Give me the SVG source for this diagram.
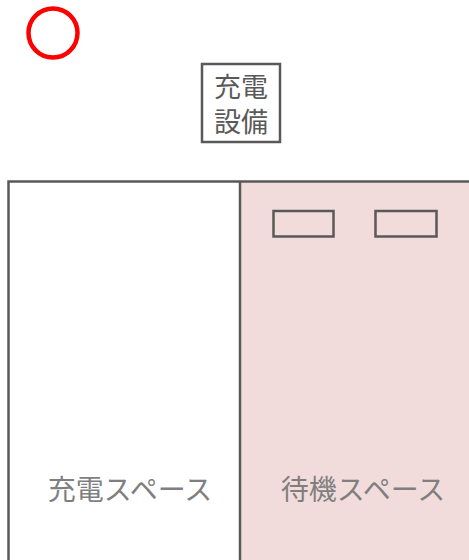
<svg xmlns="http://www.w3.org/2000/svg" width="469" height="560" viewBox="0 0 469 560">
<style>
.ln{fill:none;stroke:#595959;stroke-width:2.5}
.t{font-family:"Noto Sans CJK JP","Noto Sans",sans-serif;text-anchor:middle}
.lbl{font-size:28px;fill:#7f7f7f}
.eq{font-size:27px;fill:#595959}
</style>
<rect width="469" height="560" fill="#ffffff"/>
<g id="spaces">
<rect x="240" y="181.5" width="232" height="382" fill="#f2dcdb"/>
<rect x="8.5" y="181.5" width="464" height="382" class="ln"/>
<line x1="240" y1="181.5" x2="240" y2="562" class="ln"/>
</g>
<g id="marker-circle">
<circle cx="53" cy="33" r="24.5" fill="none" stroke="#ff0000" stroke-width="4.5"/>
</g>
<g id="charger">
<rect x="202" y="64" width="78" height="78" fill="#ffffff" class="ln"/>
<text class="t eq" x="241" y="97">充電</text>
<text class="t eq" x="241" y="132">設備</text>
</g>
<g id="slot1"><rect x="273.5" y="211" width="60" height="25.5" fill="#ffffff" class="ln" stroke-width="2"/></g>
<g id="slot2"><rect x="375.5" y="211" width="61" height="25.5" fill="#ffffff" class="ln" stroke-width="2"/></g>
<g id="label-charge"><text class="t lbl" x="130" y="500">充電スペース</text></g>
<g id="label-wait"><text class="t lbl" x="363" y="500">待機スペース</text></g>
<g id="connectors"></g>
</svg>
